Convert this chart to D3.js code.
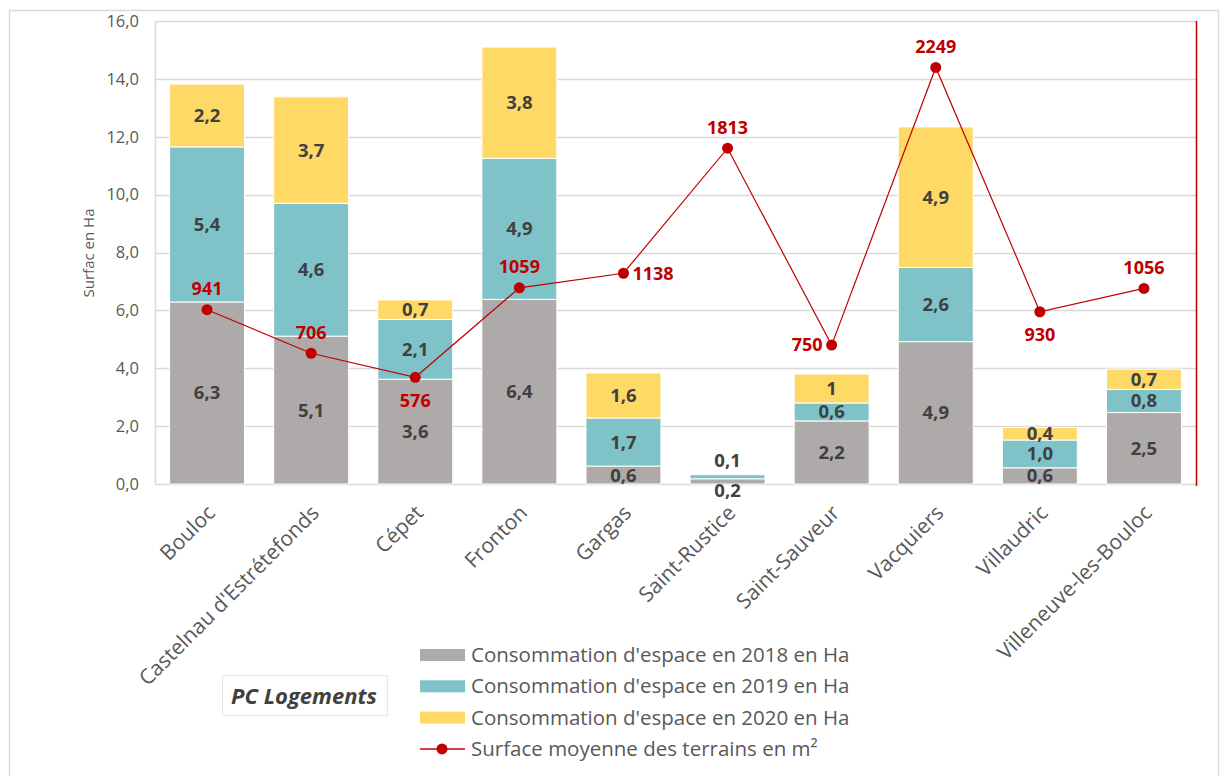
<!DOCTYPE html>
<html>
<head>
<meta charset="utf-8">
<script src="https://cdnjs.cloudflare.com/ajax/libs/d3/7.8.5/d3.min.js"></script>
<style>
  body { margin: 0; background: #fff; }
  text { font-family: "Open Sans", Lato, sans-serif; }
</style>
</head>
<body>
<div id="container"></div>
<script>
// Data
var communes = ["Bouloc", "Castelnau d'Estrétefonds", "Cépet", "Fronton", "Gargas",
    "Saint-Rustice", "Saint-Sauveur", "Vacquiers", "Villaudric", "Villeneuve-les-Bouloc"];
var conso2018 = [6.29, 5.11, 3.62, 6.38, 0.62, 0.18, 2.18, 4.92, 0.56, 2.47];
var conso2019 = [5.36, 4.59, 2.07, 4.87, 1.66, 0.14, 0.62, 2.56, 0.96, 0.8];
var conso2020 = [2.17, 3.68, 0.67, 3.85, 1.56, 0, 1, 4.86, 0.43, 0.7];
var surfaceMoyenne = [941, 706, 576, 1059, 1138, 1813, 750, 2249, 930, 1056];
var yTicks = [0, 2, 4, 6, 8, 10, 12, 14, 16];
var seriesNames = ["Consommation d'espace en 2018 en Ha",
    "Consommation d'espace en 2019 en Ha",
    "Consommation d'espace en 2020 en Ha"];
var lineName = "Surface moyenne des terrains en m²";
// where each line label sits relative to its point
var lineLabelPos = ["above", "above", "below", "above", "right", "above", "left", "above", "below", "above"];

var colors = ["#AEAAAA", "#7FC3C9", "#FFD966"];
var red = "#C00000";

var width = 1224, height = 776;
var margin = { left: 155, right: 28, top: 21, bottom: 292 };
var x0 = margin.left, x1 = width - margin.right;
var y0 = height - margin.bottom, y1 = margin.top;

var svg = d3.select("#container")
    .append("svg")
    .attr("width", width)
    .attr("height", height);

// chart frame
svg.append("path")
    .attr("d", "M9.5,780 V10.5 H1218.5 V780")
    .attr("fill", "none")
    .attr("stroke", "#d9d9d9")
    .attr("stroke-width", 1.5);

var xScale = d3.scaleBand()
    .domain(communes)
    .range([x0, x1])
    .paddingInner(0.28)
    .paddingOuter(0.14);
var yScale = d3.scaleLinear()
    .domain([0, 16])
    .range([y0, y1]);
var y2Scale = d3.scaleLinear()
    .domain([0, 2500])
    .range([y0, y1]);

// gridlines
svg.selectAll(".grid")
    .data(yTicks)
    .enter()
    .append("line")
    .attr("x1", x0)
    .attr("x2", x1)
    .attr("y1", function(d) { return Math.round(yScale(d)) + 0.5; })
    .attr("y2", function(d) { return Math.round(yScale(d)) + 0.5; })
    .attr("stroke", "#d9d9d9")
    .attr("stroke-width", 1.5);

// left axis line
svg.append("line")
    .attr("x1", x0 + 0.5).attr("x2", x0 + 0.5)
    .attr("y1", y1).attr("y2", y0)
    .attr("stroke", "#d9d9d9")
    .attr("stroke-width", 1.5);

// y tick labels
svg.selectAll(".ytick")
    .data(yTicks)
    .enter()
    .append("text")
    .attr("x", 139)
    .attr("y", function(d) { return yScale(d); })
    .attr("dy", "0.35em")
    .attr("text-anchor", "end")
    .attr("fill", "#595959")
    .style("font-size", "16.5px")
    .text(function(d) { return d3.format(".1f")(d).replace(".", ","); });

// y axis title
svg.append("text")
    .attr("transform", "translate(94,253) rotate(-90)")
    .attr("text-anchor", "middle")
    .attr("fill", "#595959")
    .style("font-size", "15px")
    .text("Surfac en Ha");

// stacked bars
var rows = communes.map(function(c, i) {
    return { commune: c, s0: conso2018[i], s1: conso2019[i], s2: conso2020[i] };
});
var stack = d3.stack().keys(["s0", "s1", "s2"])(rows);

function fmt(v) {
    return Number.isInteger(v) ? String(v) : v.toFixed(1).replace(".", ",");
}

stack.forEach(function(layer, k) {
    svg.selectAll(".bar" + k)
        .data(layer)
        .enter()
        .append("rect")
        .attr("x", function(d) { return xScale(d.data.commune); })
        .attr("width", xScale.bandwidth())
        .attr("y", function(d) { return yScale(d[1]); })
        .attr("height", function(d) { return yScale(d[0]) - yScale(d[1]); })
        .attr("fill", colors[k])
        .attr("stroke", "#fff")
        .attr("stroke-width", 1);
});

// bar value labels
stack.forEach(function(layer, k) {
    svg.selectAll(".lab" + k)
        .data(layer.filter(function(d) { return d[1] - d[0] > 0; }))
        .enter()
        .append("text")
        .attr("x", function(d) { return xScale(d.data.commune) + xScale.bandwidth() / 2; })
        .attr("y", function(d) {
            // Saint-Rustice is too thin: labels go outside
            if (d.data.commune == "Saint-Rustice") {
                return k == 0 ? yScale(0) + 7 : yScale(d[1]) - 14;
            }
            return yScale((d[0] + d[1]) / 2);
        })
        .attr("dy", "0.35em")
        .attr("text-anchor", "middle")
        .attr("fill", "#404040")
        .style("font-size", "18.5px")
        .style("font-weight", "bold")
        .text(function(d) { return fmt(d[1] - d[0]); });
});

// x labels
svg.selectAll(".xlab")
    .data(communes)
    .enter()
    .append("text")
    .attr("transform", function(d) {
        return "translate(" + (xScale(d) + xScale.bandwidth() / 2 + 4) + "," + (y0 + 25) + ") rotate(-45)";
    })
    .attr("text-anchor", "end")
    .attr("dy", "0.35em")
    .attr("fill", "#595959")
    .style("font-size", "21px")
    .text(function(d) { return d; });

// secondary axis line (red)
svg.append("line")
    .attr("x1", x1 + 0.5).attr("x2", x1 + 0.5)
    .attr("y1", y1).attr("y2", y0 + 2)
    .attr("stroke", red)
    .attr("stroke-width", 1.5);

// line series
var cx = function(d, i) { return xScale(communes[i]) + xScale.bandwidth() / 2; };
var line = d3.line()
    .x(cx)
    .y(function(d) { return y2Scale(d); });
svg.append("path")
    .datum(surfaceMoyenne)
    .attr("d", line)
    .attr("fill", "none")
    .attr("stroke", red)
    .attr("stroke-width", 1.2);
svg.selectAll(".pt")
    .data(surfaceMoyenne)
    .enter()
    .append("circle")
    .attr("cx", cx)
    .attr("cy", function(d) { return y2Scale(d); })
    .attr("r", 5.5)
    .attr("fill", red);
svg.selectAll(".ptlab")
    .data(surfaceMoyenne)
    .enter()
    .append("text")
    .attr("x", function(d, i) {
        var p = lineLabelPos[i];
        return cx(d, i) + (p == "right" ? 9 : p == "left" ? -9 : 0);
    })
    .attr("y", function(d, i) {
        var p = lineLabelPos[i];
        return y2Scale(d) + (p == "above" ? -21 : p == "below" ? 23 : 0);
    })
    .attr("dy", "0.35em")
    .attr("text-anchor", function(d, i) {
        var p = lineLabelPos[i];
        return p == "right" ? "start" : p == "left" ? "end" : "middle";
    })
    .attr("fill", red)
    .style("font-size", "18px")
    .style("font-weight", "bold")
    .text(function(d) { return d; });

// legend
var legendItems = seriesNames.map(function(n, i) { return { name: n, color: colors[i] }; });
legendItems.push({ name: lineName, color: red, line: true });
var legend = svg.selectAll(".legend")
    .data(legendItems)
    .enter()
    .append("g")
    .attr("transform", function(d, i) { return "translate(420," + (655 + i * 31.3) + ")"; });
legend.each(function(d) {
    var g = d3.select(this);
    if (d.line) {
        g.append("line").attr("x1", 0).attr("x2", 45).attr("y1", 0).attr("y2", 0)
            .attr("stroke", red).attr("stroke-width", 1.5);
        g.append("circle").attr("cx", 22).attr("cy", 0).attr("r", 5.5).attr("fill", red);
    } else {
        g.append("rect").attr("x", 0).attr("y", -6).attr("width", 45).attr("height", 12)
            .attr("fill", d.color);
    }
    g.append("text")
        .attr("x", 51)
        .attr("dy", "0.35em")
        .attr("fill", "#595959")
        .style("font-size", "20.5px")
        .text(d.name);
});

// PC Logements box
svg.append("rect")
    .attr("x", 222.5).attr("y", 675.5)
    .attr("width", 165).attr("height", 40)
    .attr("fill", "#fff")
    .attr("stroke", "#e7e7e7");
svg.append("text")
    .attr("x", 304).attr("y", 696)
    .attr("dy", "0.35em")
    .attr("text-anchor", "middle")
    .attr("fill", "#404040")
    .style("font-size", "22px")
    .style("font-weight", "bold")
    .style("font-style", "italic")
    .text("PC Logements");
</script>
</body>
</html>
